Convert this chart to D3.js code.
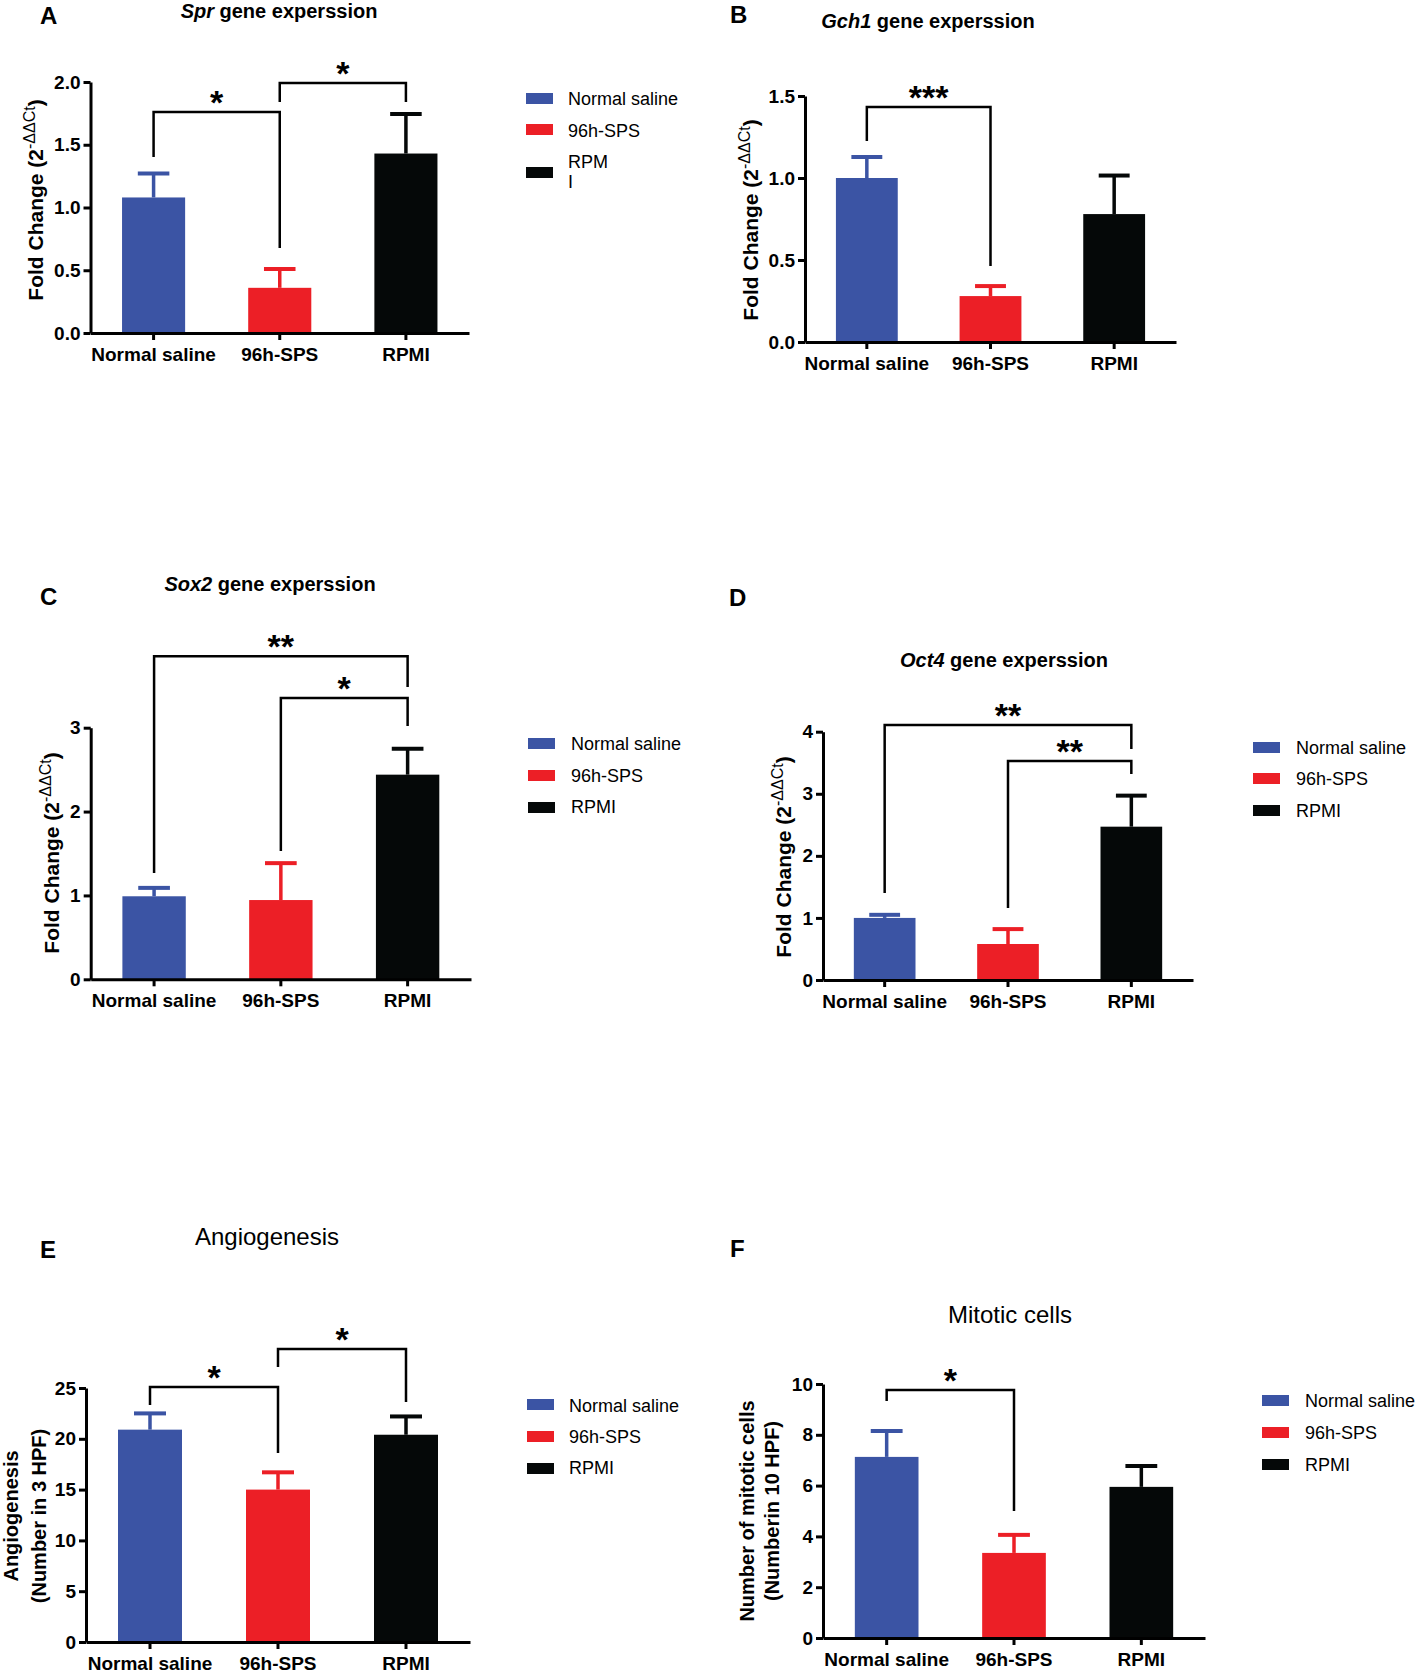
<!DOCTYPE html>
<html><head><meta charset="utf-8">
<script src="https://cdn.jsdelivr.net/npm/d3@7"></script>
<style>
body{margin:0;background:#fff}
svg{display:block}
text{font-family:"Liberation Sans",Arial,Helvetica,sans-serif;fill:#000}
</style>
</head><body>
<svg id="chart" width="1420" height="1674"></svg>
<script>
// ---------------- data ----------------
const categories = ["Normal saline", "96h-SPS", "RPMI"];
const groupColors = ["#3B54A4", "#EC1F26", "#050808"];

const sprMean = [1.08, 0.36, 1.43];
const sprErr  = [0.19, 0.15, 0.315];
const sprTicks = [0, 0.5, 1.0, 1.5, 2.0];
const sprSig = [[0, 1, "*"], [1, 2, "*"]];

const gch1Mean = [1.00, 0.28, 0.78];
const gch1Err  = [0.128, 0.061, 0.235];
const gch1Ticks = [0, 0.5, 1.0, 1.5];
const gch1Sig = [[0, 1, "***"]];

const sox2Mean = [0.99, 0.945, 2.44];
const sox2Err  = [0.10, 0.44, 0.31];
const sox2Ticks = [0, 1, 2, 3];
const sox2Sig = [[0, 2, "**"], [1, 2, "*"]];

const oct4Mean = [1.00, 0.58, 2.47];
const oct4Err  = [0.05, 0.24, 0.50];
const oct4Ticks = [0, 1, 2, 3, 4];
const oct4Sig = [[0, 2, "**"], [1, 2, "**"]];

const angioMean = [20.9, 15.0, 20.4];
const angioErr  = [1.6, 1.7, 1.8];
const angioTicks = [0, 5, 10, 15, 20, 25];
const angioSig = [[0, 1, "*"], [1, 2, "*"]];

const mitoticMean = [7.13, 3.35, 5.95];
const mitoticErr  = [1.02, 0.71, 0.82];
const mitoticTicks = [0, 2, 4, 6, 8, 10];
const mitoticSig = [[0, 1, "*"]];

// ---------------- drawing ----------------
const svg = d3.select("#chart");
const FONT = '"Liberation Sans",Arial,Helvetica,sans-serif';

function drawPanel(p) {
  const g = svg.append("g");
  const x = d3.scaleBand().domain(categories).range([p.x0, p.x1]).paddingInner(0.5).paddingOuter(0.25);
  const y = d3.scaleLinear().domain([0, p.ymax]).range([p.y0, p.y1]);
  const cx = i => x(categories[i]) + x.bandwidth() / 2;

  // bars
  g.selectAll("rect.bar").data(p.mean).join("rect")
    .attr("class", "bar")
    .attr("x", (d, i) => x(categories[i]))
    .attr("y", d => y(d))
    .attr("width", x.bandwidth())
    .attr("height", d => y(0) - y(d))
    .attr("fill", (d, i) => groupColors[i]);

  // error bars (upper only)
  const capW = x.bandwidth() * 0.5;
  g.selectAll("line.stem").data(p.mean).join("line")
    .attr("x1", (d, i) => cx(i)).attr("x2", (d, i) => cx(i))
    .attr("y1", d => y(d)).attr("y2", (d, i) => y(d + p.err[i]))
    .attr("stroke", (d, i) => groupColors[i]).attr("stroke-width", 3.5);
  g.selectAll("line.cap").data(p.mean).join("line")
    .attr("x1", (d, i) => cx(i) - capW / 2).attr("x2", (d, i) => cx(i) + capW / 2)
    .attr("y1", (d, i) => y(d + p.err[i])).attr("y2", (d, i) => y(d + p.err[i]))
    .attr("stroke", (d, i) => groupColors[i]).attr("stroke-width", 4);

  // axes
  const ya = g.append("g").attr("transform", `translate(${p.x0},0)`)
    .call(d3.axisLeft(y).tickValues(p.ticks).tickFormat(d3.format(p.fmt)).tickSize(7).tickSizeOuter(0).tickPadding(3));
  ya.select(".domain").attr("stroke-width", 3).attr("stroke", "#000");
  ya.selectAll(".tick line").attr("stroke-width", 3).attr("stroke", "#000");
  ya.selectAll(".tick text").attr("font-family", FONT).attr("font-size", 19).attr("font-weight", "bold").attr("fill", "#000");

  const xa = g.append("g").attr("transform", `translate(0,${p.y0})`)
    .call(d3.axisBottom(x).tickSize(7).tickSizeOuter(0));
  xa.select(".domain").attr("stroke-width", 3).attr("stroke", "#000");
  xa.selectAll(".tick line").attr("stroke-width", 3).attr("stroke", "#000");
  xa.selectAll(".tick text").attr("font-family", FONT).attr("font-size", 19).attr("font-weight", "bold")
    .attr("fill", "#000").attr("y", 28).attr("dy", 0);

  // significance brackets
  p.sig.forEach((s, k) => {
    const b = p.brackets[k];
    const xa_ = cx(s[0]), xb = cx(s[1]);
    const yl = y(b.level);
    g.append("path")
      .attr("d", `M${xa_},${y(b.left)}V${yl}H${xb}V${y(b.right)}`)
      .attr("fill", "none").attr("stroke", "#000").attr("stroke-width", 2.5);
    g.append("text").attr("x", (xa_ + xb) / 2).attr("y", yl + 2)
      .attr("text-anchor", "middle").attr("font-size", 34).attr("font-weight", "bold")
      .text(s[2]);
  });

  // y label
  if (p.ylabelLines) {
    p.ylabelLines.forEach((t, k) => {
      svg.append("text")
        .attr("transform", `translate(${p.ylabelX[k]},${p.ylabelY}) rotate(-90)`)
        .attr("text-anchor", "middle").attr("font-size", 20).attr("font-weight", "bold")
        .text(t);
    });
  } else {
    const t = svg.append("text")
      .attr("transform", `translate(${p.ylabelX},${p.ylabelY}) rotate(-90)`)
      .attr("text-anchor", "middle").attr("font-size", 21).attr("font-weight", "bold");
    t.append("tspan").text("Fold Change (2");
    t.append("tspan").attr("font-size", 16).attr("font-weight", "normal").attr("dy", -8).text("-ΔΔCt");
    t.append("tspan").attr("dy", 8).text(")");
  }

  // title
  const tt = svg.append("text").attr("x", p.titleX).attr("y", p.titleY).attr("text-anchor", "middle");
  if (p.gene) {
    tt.attr("font-size", 20).attr("font-weight", "bold");
    tt.append("tspan").attr("font-style", "italic").text(p.gene);
    tt.append("tspan").text(" gene experssion");
  } else {
    tt.attr("font-size", 24).text(p.title);
  }

  // panel letter
  svg.append("text").attr("x", p.letterX).attr("y", p.letterY)
    .attr("font-size", 24).attr("font-weight", "bold").text(p.letter);

  // legend
  if (p.legend) {
    const L = p.legend;
    categories.forEach((c, i) => {
      svg.append("rect").attr("x", L.sx).attr("y", L.tops[i]).attr("width", 27).attr("height", 11)
        .attr("fill", groupColors[i]);
      const lines = (L.wrap && L.wrap[i]) ? L.wrap[i] : [c];
      lines.forEach((ln, j) => {
        svg.append("text").attr("x", L.tx).attr("y", L.bases[i] + j * 20)
          .attr("font-size", 18).text(ln);
      });
    });
  }
}

drawPanel({
  letter: "A", letterX: 40, letterY: 24, gene: "Spr", titleX: 279, titleY: 18,
  mean: sprMean, err: sprErr, ticks: sprTicks, fmt: ".1f", sig: sprSig, ymax: 2,
  x0: 90.5, x1: 469, y0: 333, y1: 82, ylabelX: 43, ylabelY: 200,
  brackets: [{level: 1.761, left: 1.402, right: 0.677}, {level: 1.992, left: 1.841, right: 1.841}],
  legend: {sx: 526, tx: 568, tops: [93, 124, 167], bases: [105, 137, 168], wrap: {2: ["RPM", "I"]}}
});

drawPanel({
  letter: "B", letterX: 730, letterY: 23, gene: "Gch1", titleX: 928, titleY: 28,
  mean: gch1Mean, err: gch1Err, ticks: gch1Ticks, fmt: ".1f", sig: gch1Sig, ymax: 1.5,
  x0: 805, x1: 1176, y0: 342, y1: 96, ylabelX: 758, ylabelY: 220,
  brackets: [{level: 1.433, left: 1.226, right: 0.463}]
});

drawPanel({
  letter: "C", letterX: 40, letterY: 605, gene: "Sox2", titleX: 270, titleY: 591,
  mean: sox2Mean, err: sox2Err, ticks: sox2Ticks, fmt: "d", sig: sox2Sig, ymax: 3,
  x0: 90.7, x1: 471, y0: 979.3, y1: 727.7, ylabelX: 59, ylabelY: 853,
  brackets: [{level: 3.853, left: 1.267, right: 3.484}, {level: 3.353, left: 1.529, right: 3.019}],
  legend: {sx: 528, tx: 571, tops: [738, 770, 802], bases: [750, 782, 813]}
});

drawPanel({
  letter: "D", letterX: 729, letterY: 606, gene: "Oct4", titleX: 1004, titleY: 667,
  mean: oct4Mean, err: oct4Err, ticks: oct4Ticks, fmt: "d", sig: oct4Sig, ymax: 4,
  x0: 823, x1: 1193, y0: 980, y1: 731.7, ylabelX: 791, ylabelY: 857,
  brackets: [{level: 4.108, left: 1.401, right: 3.721}, {level: 3.528, left: 1.160, right: 3.318}],
  legend: {sx: 1253, tx: 1296, tops: [742, 773, 805], bases: [754, 785, 817]}
});

drawPanel({
  letter: "E", letterX: 40, letterY: 1258, title: "Angiogenesis", titleX: 267, titleY: 1245,
  mean: angioMean, err: angioErr, ticks: angioTicks, fmt: "d", sig: angioSig, ymax: 25,
  x0: 86, x1: 470, y0: 1642, y1: 1388,
  ylabelLines: ["Angiogenesis", "(Number in 3 HPF)"], ylabelX: [18, 46], ylabelY: 1516,
  brackets: [{level: 25.1, left: 23.33, right: 18.6}, {level: 28.84, left: 27.07, right: 23.62}],
  legend: {sx: 527, tx: 569, tops: [1399, 1431, 1463], bases: [1412, 1443, 1474]}
});

drawPanel({
  letter: "F", letterX: 730, letterY: 1257, title: "Mitotic cells", titleX: 1010, titleY: 1323,
  mean: mitoticMean, err: mitoticErr, ticks: mitoticTicks, fmt: "d", sig: mitoticSig, ymax: 10,
  x0: 823, x1: 1205, y0: 1638, y1: 1384,
  ylabelLines: ["Number of mitotic cells", "(Numberin 10 HPF)"], ylabelX: [754, 779], ylabelY: 1511,
  brackets: [{level: 9.76, left: 9.33, right: 5.0}],
  legend: {sx: 1262, tx: 1305, tops: [1395, 1427, 1459], bases: [1407, 1439, 1471]}
});
</script>
</body></html>
